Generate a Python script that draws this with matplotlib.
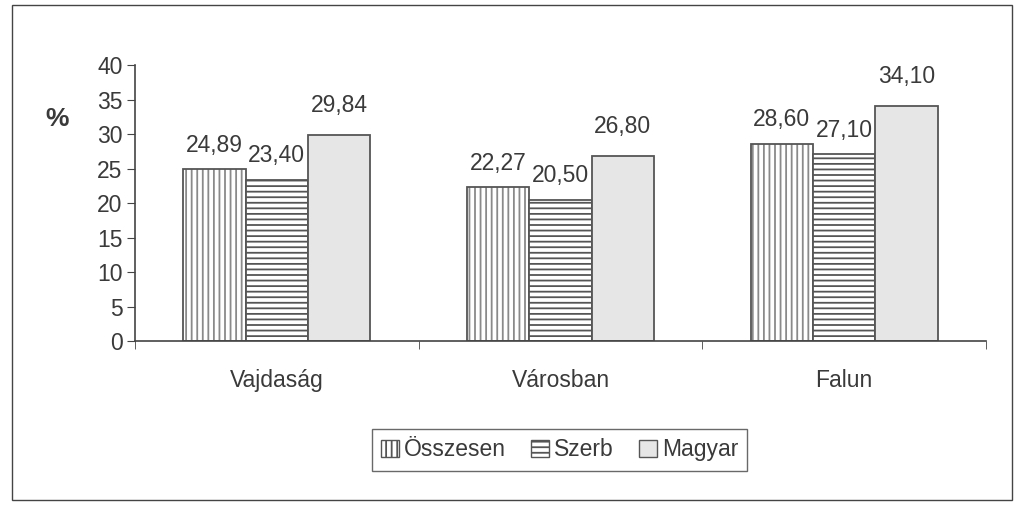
import matplotlib

matplotlib.use("Agg")
import matplotlib.pyplot as plt
import numpy as np
from matplotlib.patches import Patch, Rectangle

plt.rcParams["font.family"] = ["Liberation Sans", "DejaVu Sans"]
plt.rcParams["hatch.linewidth"] = 1.3

categories = ["Vajdaság", "Városban", "Falun"]
series = ["Összesen", "Szerb", "Magyar"]
osszesen = [24.89, 22.27, 28.60]
szerb = [23.40, 20.50, 27.10]
magyar = [29.84, 26.80, 34.10]
values = [osszesen, szerb, magyar]
labels = [["24,89", "22,27", "28,60"], ["23,40", "20,50", "27,10"], ["29,84", "26,80", "34,10"]]

face = ["white", "white", "#e6e6e6"]
hatches = ["|||", "---", None]
hatch_col = ["#8a8a8a", "#555555", "#e6e6e6"]
edge = "#555555"
txt = "#3a3a3a"

fig = plt.figure(figsize=(10.25, 5.13), dpi=100)
ax = fig.add_axes([0.1317, 0.335, 0.8303, 0.538])

x = np.arange(len(categories))
w = 0.22
for i, vals in enumerate(values):
    pos = x + (i - 1) * w
    ax.bar(pos, vals, w, color=face[i], hatch=hatches[i], edgecolor=hatch_col[i], linewidth=0)
    ax.bar(pos, vals, w, fill=False, edgecolor=edge, linewidth=1.3)
    off = 2.6 if i == 2 else 1.8
    for p, v, t in zip(pos, vals, labels[i]):
        ax.text(p, v + off, t, ha="center", va="bottom", fontsize=16.5, color=txt)

ax.set_xlim(-0.5, 2.5)
ax.set_ylim(0, 40)
ax.set_yticks(range(0, 41, 5))
ax.set_xticks(x)
ax.set_xticklabels(categories)
ax.set_xticks([-0.5, 0.5, 1.5, 2.5], minor=True)
ax.tick_params(axis="x", which="major", length=0, pad=20, labelsize=16.5, colors=txt)
ax.tick_params(axis="x", which="minor", length=6, direction="out", color="#444444")
ax.tick_params(axis="y", length=6, labelsize=16.5, colors=txt, color="#444444", pad=3)
for s in ["top", "right"]:
    ax.spines[s].set_visible(False)
for s in ["left", "bottom"]:
    ax.spines[s].set_color("#444444")
    ax.spines[s].set_linewidth(1.2)

fig.text(0.044, 0.755, "%", fontsize=19, fontweight="bold", color=txt)

handles = [Patch(facecolor=face[i], edgecolor=edge, hatch=hatches[i], linewidth=1.0) for i in range(3)]
leg = fig.legend(handles, series, loc="center", bbox_to_anchor=(0.546, 0.123), ncol=3,
                 fontsize=16.5, handlelength=0.8, handleheight=0.8, handletextpad=0.2,
                 columnspacing=1.1, fancybox=False, edgecolor="#444444", borderpad=0.4,
                 borderaxespad=0.0)
leg.get_frame().set_linewidth(1.0)
for t in leg.get_texts():
    t.set_color(txt)

fig.patches.append(Rectangle((12 / 1025, 13 / 513), 1000 / 1025, 495 / 513, transform=fig.transFigure,
                             fill=False, edgecolor="#444444", linewidth=1.0))

fig.savefig("out.png", dpi=100)
